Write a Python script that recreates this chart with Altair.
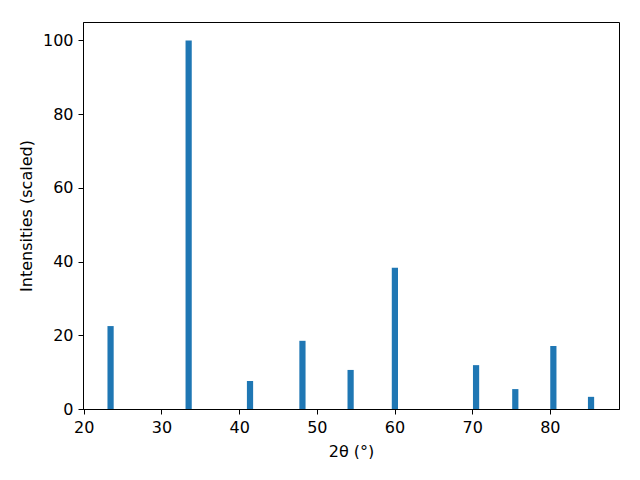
import altair as alt
import pandas as pd

two_theta = [23.45, 33.5, 41.4, 48.15, 54.35, 60.05, 70.5, 75.55, 80.45, 85.3]
intensity = [22.5, 100.0, 7.6, 18.5, 10.6, 38.3, 11.9, 5.4, 17.1, 3.3]
bar_width = 0.8

df = pd.DataFrame({"theta": two_theta, "intensity": intensity})

axis_style = dict(
    grid=False, domainColor="black", tickColor="black", tickSize=5,
    labelFont="DejaVu Sans", titleFont="DejaVu Sans", labelFontSize=16,
    titleFontSize=16, titleFontWeight="normal", labelColor="black", titleColor="black",
    labelPadding=5, labelFlush=False,
)

chart = alt.Chart(df).transform_calculate(
    x0=f"datum.theta - {bar_width/2}",
    x1=f"datum.theta + {bar_width/2}",
).mark_bar(color="#1f77b4").encode(
    x=alt.X("x0:Q", scale=alt.Scale(domain=[19.9, 88.9], nice=False, zero=False),
            axis=alt.Axis(title="2θ (°)", values=[20, 30, 40, 50, 60, 70, 80],
                          titlePadding=8, **axis_style)),
    x2="x1:Q",
    y=alt.Y("intensity:Q", scale=alt.Scale(domain=[0, 105], nice=False),
            axis=alt.Axis(title="Intensities (scaled)", values=[0, 20, 40, 60, 80, 100],
                          titlePadding=8, **axis_style)),
    y2=alt.datum(0),
).properties(
    width=536, height=387,
    autosize=alt.AutoSizeParams(type="none"),
    padding={"left": 75, "top": 14, "right": 13, "bottom": 50},
).configure_view(
    stroke="black", strokeWidth=1
)

chart.save("out.html", embed_options={"renderer": "svg", "actions": False})
